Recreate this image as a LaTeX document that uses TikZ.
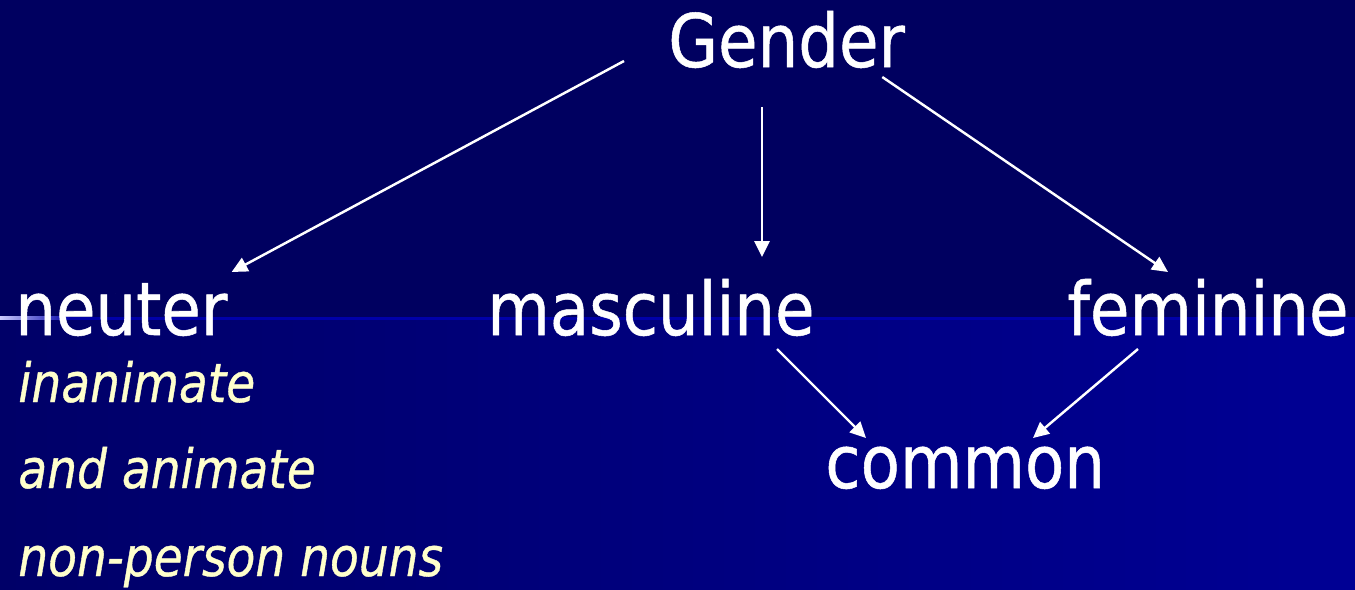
\documentclass[tikz,border=0pt]{standalone}
\usepackage{fontspec}
\setmainfont{DejaVu Sans}[FakeStretch=0.87,FakeBold=0.7]
\usetikzlibrary{arrows.meta,calc}
\definecolor{topblue}{HTML}{000060}
\definecolor{lowleft}{HTML}{000068}
\definecolor{lowright}{HTML}{000094}
\definecolor{rulecol}{HTML}{0000A8}
\definecolor{notecol}{HTML}{FFFFCC}
\tikzset{
  lbl/.style={text=white,inner sep=0pt,anchor=base west,font=\fontsize{42}{48}\selectfont},
  note/.style={text=notecol,inner sep=0pt,anchor=base west,font=\itshape\fontsize{30.8}{36}\selectfont},
  arr/.style={draw=white,line width=1.4pt,-{Triangle[length=9pt,width=8.5pt]}}
}
\begin{document}
\begin{tikzpicture}[x=0.02cm,y=-0.02cm]
\useasboundingbox (0,0) rectangle (1355,589);
% background
\fill[topblue] (0,0) rectangle (1355,318);
\shade[left color=lowleft,right color=lowright] (0,318) rectangle (1355,589);
\fill[rulecol] (0,316.5) rectangle (1355,319.5);
\shade[left color=blue!20!white,middle color=blue!50!cyan,right color=rulecol] (0,316.5) rectangle (70,319.5);
% labels
\node[lbl] (gender) at (668,67) {Gender};
\node[lbl] (neuter) at (15,335) {neuter};
\node[lbl] (masc) at (487,335) {masculine};
\node[lbl] (fem) at (1067,335) {feminine};
\node[lbl] (common) at (825,488) {common};
\node[note] (inan) at (18,402) {inanimate};
\node[note] (anim) at (18,488) {and animate};
\node[note] (nonpers) at (18,576) {non-person nouns};
% arrows
\draw[arr] ($(gender.base west)+(-44,-6)$) -- ($(neuter.base east)+(4,-63)$);
\draw[arr] ($(gender.base west)+(94,40)$) -- ($(masc.base west)+(275,-78)$);
\draw[arr] ($(gender.base east)+(-23,10)$) -- ($(fem.base west)+(101,-63)$);
\draw[arr] ($(masc.base west)+(290,14)$) -- ($(common.base west)+(41,-50)$);
\draw[arr] ($(fem.base west)+(71,14)$) -- ($(common.base west)+(208,-50)$);
\end{tikzpicture}
\end{document}
